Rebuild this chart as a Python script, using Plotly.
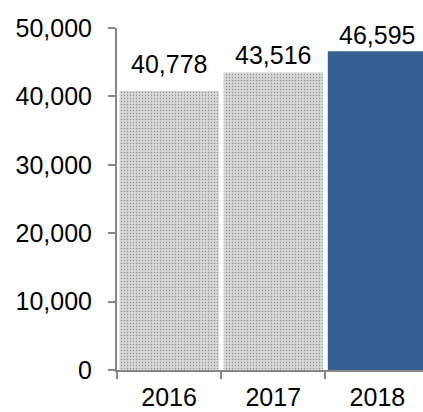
import plotly.graph_objects as go

# Annual totals
years = ["2016", "2017", "2018"]
totals = [40778, 43516, 46595]
bar_colors = ["#d9d9d9", "#d9d9d9", "#365f91"]
label_lift = [11, 1, 0]  # vertical offset of each value label, px

FONT = "Liberation Sans, Arial, sans-serif"

fig = go.Figure()
fig.add_trace(go.Bar(
    x=years,
    y=totals,
    marker=dict(
        color=bar_colors,
        line=dict(width=0),
        pattern=dict(
            shape=[".", ".", ""],
            size=3,
            solidity=0.2,
            fgcolor="#d0d0d0",
            fillmode="overlay",
        ),
    ),
    hoverinfo="skip",
))

for i, (v, lift) in enumerate(zip(totals, label_lift)):
    fig.add_annotation(
        x=i, y=v, xref="x", yref="y", text=f"{v:,}", showarrow=False,
        yanchor="bottom", xanchor="center", yshift=lift,
        font=dict(family=FONT, size=25, color="#000000"),
    )

fig.update_layout(
    width=423, height=412,
    margin=dict(l=117, r=0, t=28, b=42, pad=0),
    paper_bgcolor="white", plot_bgcolor="white",
    bargap=0.048,
    showlegend=False,
    font=dict(family=FONT, size=25, color="#000000"),
)
fig.update_xaxes(
    type="category",
    range=[-0.5, 2.438],
    tickson="boundaries",
    ticks="outside", ticklen=7, tickwidth=2, tickcolor="#868686",
    showline=True, linecolor="#868686", linewidth=2,
    showgrid=False, zeroline=False,
    automargin=False,
    ticklabelstandoff=4,
    tickfont=dict(family=FONT, size=25, color="#000000"),
)
fig.update_yaxes(
    range=[0, 50000],
    tickvals=[0, 10000, 20000, 30000, 40000, 50000],
    tickformat=",d",
    ticks="outside", ticklen=7, tickwidth=2, tickcolor="#868686",
    showline=True, linecolor="#868686", linewidth=2,
    showgrid=False, zeroline=False,
    automargin=False,
    ticklabelstandoff=11,
    tickfont=dict(family=FONT, size=25, color="#000000"),
)

fig.write_html("out.html")
